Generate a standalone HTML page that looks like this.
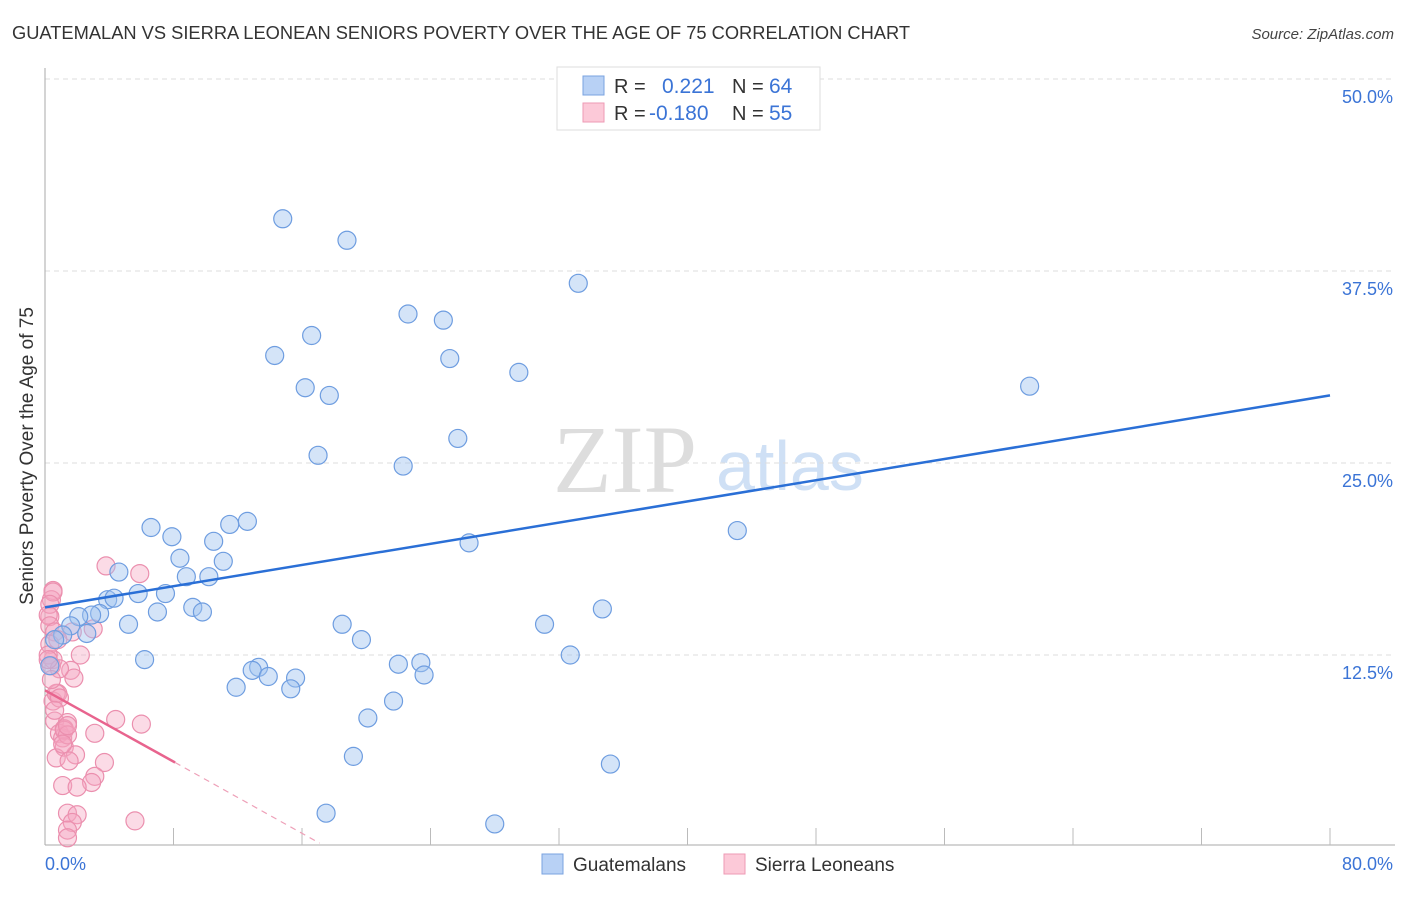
<!DOCTYPE html>
<html><head><meta charset="utf-8"><style>
body{margin:0;background:#fff;font-family:"Liberation Sans",sans-serif}
</style></head><body>
<svg id="chart" width="1406" height="892" xmlns="http://www.w3.org/2000/svg" style="font-family:'Liberation Sans',sans-serif">
<text x="12" y="39" font-size="18.3" fill="#333">GUATEMALAN VS SIERRA LEONEAN SENIORS POVERTY OVER THE AGE OF 75 CORRELATION CHART</text>
<text x="1394" y="39" font-size="15" fill="#444" text-anchor="end" font-style="italic">Source: ZipAtlas.com</text>
<g>
<text x="553" y="492" font-size="96" font-family="'Liberation Serif',serif" fill="#ddd">ZIP</text>
<text x="716" y="490" font-size="70" fill="#cfe0f5">atlas</text>
</g>
<g id="grid"></g>
<g id="axes"></g>
<g id="pts"></g>
<g id="trends"></g>
<text transform="translate(33,456) rotate(-90)" font-size="19" fill="#333" text-anchor="middle">Seniors Poverty Over the Age of 75</text>
<g>
<rect x="557" y="67" width="263" height="63" fill="#fff" stroke="#ddd"/>
<rect x="583" y="76" width="21" height="19" fill="#b8d1f5" stroke="#7aa3e0"/>
<rect x="583" y="103" width="21" height="19" fill="#fcc9d8" stroke="#ee9ab4"/>
<text x="614" y="93" font-size="20" fill="#333">R = </text><text x="662" y="93" font-size="21" fill="#3b74d6">0.221</text>
<text x="732" y="93" font-size="20" fill="#333">N = </text><text x="769" y="93" font-size="21" fill="#3b74d6">64</text>
<text x="614" y="120" font-size="20" fill="#333">R = </text><text x="649" y="120" font-size="21" fill="#3b74d6">-0.180</text>
<text x="732" y="120" font-size="20" fill="#333">N = </text><text x="769" y="120" font-size="21" fill="#3b74d6">55</text>
</g>
<g>
<rect x="542" y="854" width="21" height="20" fill="#b8d1f5" stroke="#7aa3e0"/>
<text x="573" y="871" font-size="19" fill="#333">Guatemalans</text>
<rect x="724" y="854" width="21" height="20" fill="#fcc9d8" stroke="#ee9ab4"/>
<text x="755" y="871" font-size="19" fill="#333">Sierra Leoneans</text>
</g>
</svg>
<script>
const yTicks=[12.5,25,37.5,50];
const yTickLabels=["12.5%","25.0%","37.5%","50.0%"];
const xTickLabels=["0.0%","80.0%"];
const blueX=[14.8,18.8,33.2,22.6,24.8,16.6,14.3,25.2,29.5,16.2,17.7,61.3,25.7,17.0,22.3,43.1,26.4,6.6,7.9,12.6,11.5,10.5,8.4,11.1,4.6,8.8,10.2,7.5,5.8,3.9,4.3,9.2,9.8,7.0,3.4,2.9,2.1,1.6,5.2,2.6,1.1,0.6,34.7,31.1,18.5,19.7,6.2,32.7,13.3,12.9,13.9,15.6,22.0,23.4,23.6,11.9,15.3,20.1,21.7,19.2,35.2,17.5,28.0,0.3];
const blueY=[40.9,39.5,36.7,34.7,34.3,33.3,32.0,31.8,30.9,29.9,29.4,30.0,26.6,25.5,24.8,20.6,19.8,20.8,20.2,21.2,21.0,19.9,18.8,18.6,17.9,17.6,17.6,16.5,16.5,16.1,16.2,15.6,15.3,15.3,15.2,15.1,15.0,14.4,14.5,13.9,13.8,13.5,15.5,14.5,14.5,13.5,12.2,12.5,11.7,11.5,11.1,11.0,11.9,12.0,11.2,10.4,10.3,8.4,9.5,5.9,5.4,2.2,1.5,11.8];
const pinkX=[3.8,5.9,0.5,0.4,0.3,3.0,1.7,2.2,0.5,1.6,1.8,0.8,0.5,0.6,1.4,0.9,1.1,4.4,6.0,3.1,1.2,0.7,1.9,3.7,3.1,2.9,1.1,2.0,1.4,2.0,1.7,1.4,1.4,5.6,0.5,0.3,0.2,0.3,0.6,0.8,0.3,0.2,0.4,0.9,0.7,0.9,1.2,1.2,1.4,1.1,1.5,0.2,0.4,0.6,1.4];
const pinkY=[18.3,17.8,16.7,16.1,15.0,14.2,14.0,12.5,12.2,11.5,11.0,10.0,9.5,8.2,8.1,7.4,7.1,8.3,8.0,7.4,6.5,5.8,6.0,5.5,4.6,4.2,4.0,3.9,2.2,2.1,1.6,1.1,0.6,1.7,16.6,15.8,15.1,14.4,14.0,13.5,13.2,12.5,11.8,11.6,10.0,9.7,7.7,7.6,7.3,6.7,5.6,12.2,10.9,8.9,7.9];
const blueTrend=[[0,15.6],[80,29.4]];
const pinkSolid=[[0,10.2],[8.1,5.5]];
const pinkDash=[[8.1,5.5],[17.1,0.25]];
const X0=45,X1=1330,Y0=847,Y50=79;
const sx=v=>X0+(X1-X0)*v/80, sy=v=>Y0-(Y0-Y50)*v/50;
const NS="http://www.w3.org/2000/svg";
function mk(t,p,a){const e=document.createElementNS(NS,t);for(const k in a)e.setAttribute(k,a[k]);p.appendChild(e);return e;}
const grid=document.getElementById('grid'),axes=document.getElementById('axes'),pts=document.getElementById('pts'),tr=document.getElementById('trends');
yTicks.forEach((t,i)=>{
 const l=mk('line',grid,{x1:45,x2:1395,y1:sy(t),y2:sy(t),stroke:'#ddd','stroke-dasharray':'5,4'});
 
 
 const tx=mk('text',axes,{x:1393,y:sy(t)+24,'font-size':18,fill:'#3b74d6','text-anchor':'end'});
 tx.textContent=yTickLabels[i];
 
 
});
let a=mk('line',axes,{x1:45,x2:45,y1:68,y2:845,stroke:'#aaa'});


a=mk('line',axes,{x1:45,x2:1395,y1:845,y2:845,stroke:'#aaa'});


for(let i=1;i<=10;i++){const t=mk('line',axes,{x1:sx(i*8),x2:sx(i*8),y1:828,y2:845,stroke:'#bbb'});
 
 }
let xl=mk('text',axes,{x:45,y:870,'font-size':18,fill:'#3b74d6'});xl.textContent=xTickLabels[0];


xl=mk('text',axes,{x:1393,y:870,'font-size':18,fill:'#3b74d6','text-anchor':'end'});xl.textContent=xTickLabels[1];


pinkX.forEach((x,i)=>{const c=mk('circle',pts,{cx:sx(x),cy:sy(pinkY[i]),r:9,fill:'rgba(244,165,192,0.4)',stroke:'#eb8fae','stroke-width':1.2});
 
 });
blueX.forEach((x,i)=>{const c=mk('circle',pts,{cx:sx(x),cy:sy(blueY[i]),r:9,fill:'rgba(160,196,240,0.45)',stroke:'#6e9de0','stroke-width':1.2});
 
 });
let l=mk('line',tr,{x1:sx(blueTrend[0][0]),y1:sy(blueTrend[0][1]),x2:sx(blueTrend[1][0]),y2:sy(blueTrend[1][1]),stroke:'#2a6fd6','stroke-width':2.5});


l=mk('line',tr,{x1:sx(pinkSolid[0][0]),y1:sy(pinkSolid[0][1]),x2:sx(pinkSolid[1][0]),y2:sy(pinkSolid[1][1]),stroke:'#e8648e','stroke-width':2.5});


l=mk('line',tr,{x1:sx(pinkDash[0][0]),y1:sy(pinkDash[0][1]),x2:sx(pinkDash[1][0]),y2:sy(pinkDash[1][1]),stroke:'#eea0b8','stroke-width':1.2,'stroke-dasharray':'6,5'});


</script>
</body></html>
